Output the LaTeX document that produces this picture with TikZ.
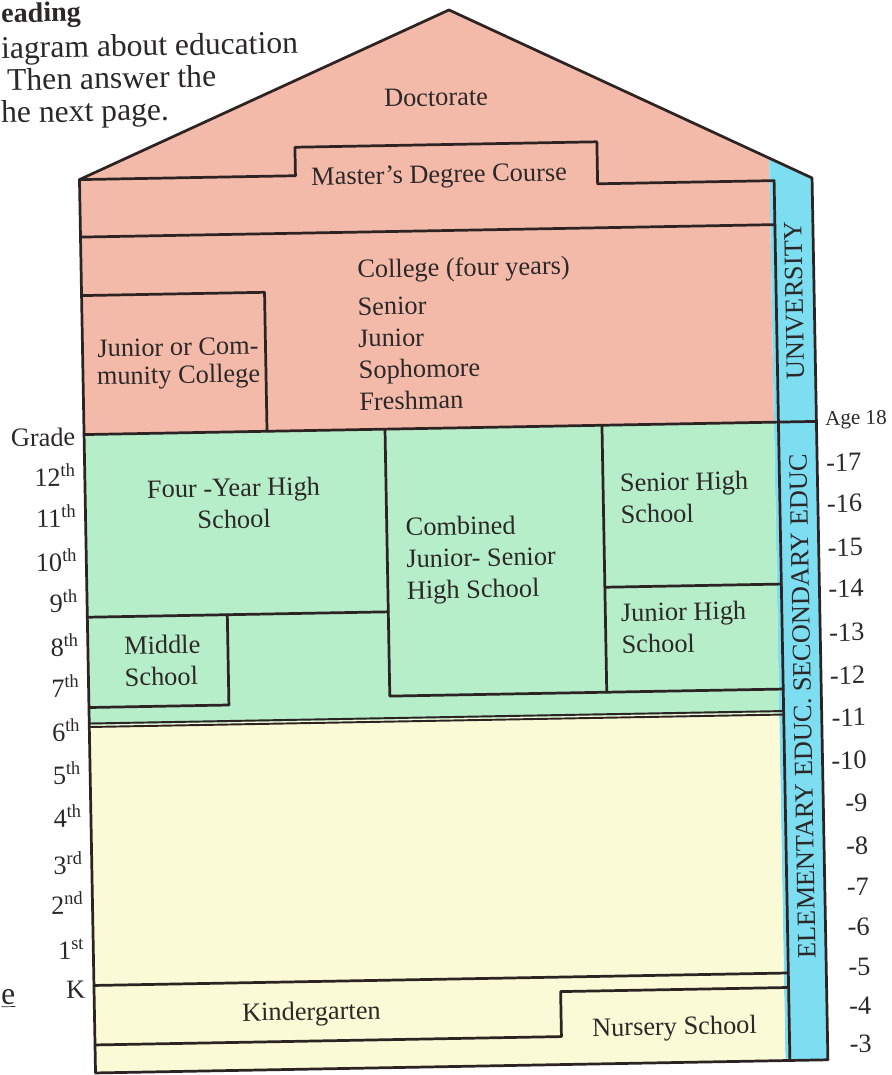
\documentclass[tikz,border=0pt]{standalone}
\usepackage{fontspec}
\setmainfont{Liberation Serif}
\definecolor{pinkfill}{RGB}{243,186,170}
\definecolor{greenfill}{RGB}{182,238,202}
\definecolor{yellowfill}{RGB}{250,250,214}
\definecolor{bluefill}{RGB}{125,222,242}
\definecolor{linec}{RGB}{45,35,35}
\definecolor{txtc}{RGB}{45,40,40}
\begin{document}
\begin{tikzpicture}[x=0.02cm,y=-0.02cm,
  wall/.style={draw=linec,line width=1.55pt,line cap=round,line join=round},
  lbl/.style={inner sep=0pt,text=txtc,font=\fontsize{15}{18}\selectfont},
  tight/.style={inner sep=0pt,text=txtc,font=\fontsize{15}{15.8}\selectfont},
  small/.style={inner sep=0pt,text=txtc,font=\fontsize{12}{14}\selectfont},
  frag/.style={inner sep=0pt,text=txtc,font=\fontsize{18}{21}\selectfont,rotate=1.03},
  agelbl/.style={lbl,anchor=base east},
  gradelbl/.style={lbl,anchor=base east}]
\useasboundingbox (0,0) rectangle (892,1075);
\fill[white] (0,0) rectangle (892,1075);

% fragments of the page text around the figure
\node[frag,anchor=base west,font=\fontsize{16}{19}\selectfont\bfseries] (fragA) at (1,22.5) {eading};
\node[frag,anchor=base west] (fragB) at (1,58.5) {iagram about education};
\node[frag,anchor=base west] (fragC) at (7,90.5) {Then answer the};
\node[frag,anchor=base west] (fragD) at (1,123) {he next page.};

\begin{scope}[rotate around={1.03:(450,540)},transform shape]
% fills
\fill[pinkfill] (86,173) -- (458.5,10) -- (776,163.9) -- (776,428) -- (86,428) -- cycle;
\fill[bluefill] (776,163.9) -- (818.5,184.5) -- (818.5,1066.5) -- (776,1066.5) -- cycle;
\fill[greenfill] (86,428) rectangle (776,718.7);
\fill[yellowfill] (86,718.7) rectangle (776,1066.5);

% outline
\draw[wall] (86,1066.5) -- (86,173) -- (458.5,10) -- (818.5,184.5) -- (818.5,1066.5) -- cycle;
\draw[wall] (780.5,186.5) -- (780.5,1066.5);
% master's step
\draw[wall] (86,173) -- (302,173) -- (302,144.5) -- (604,144.5) -- (604,186.5) -- (780.5,186.5);
\draw[wall] (86,230.5) -- (780.5,230.5);
% junior college box
\draw[wall] (86,289) -- (269,289) -- (269,428);
% university / secondary boundary
\draw[wall] (86,428) -- (818.5,428);
% secondary boxes
\draw[wall] (387,428) -- (387,695) -- (780.5,695);
\draw[wall] (604,428) -- (604,695);
\draw[wall] (604,590) -- (780.5,590);
\draw[wall] (86,610.7) -- (387,610.7);
\draw[wall] (226,610.7) -- (226,701) -- (86,701);
% double line
\draw[wall,line width=1.1pt] (86,717) -- (780.5,717);
\draw[wall,line width=1.1pt] (86,720.5) -- (780.5,720.5);
% kindergarten / nursery
\draw[wall] (86,979) -- (780.5,979);
\draw[wall] (86,1038.5) -- (552.5,1038.5) -- (552.5,993.5) -- (780.5,993.5);

% labels inside
\node[lbl,anchor=base] (doc) at (444,105.7) {Doctorate};
\node[lbl,anchor=base] (mas) at (445.6,182.8) {Master’s Degree Course};
\node[lbl,anchor=base west] (col) at (362,276.3) {College (four years)};
\node[lbl,anchor=north west,align=left] (years) at (361.5,296) {Senior\\Junior\\Sophomore\\Freshman};
\node[tight,anchor=north,align=center] (jc) at (181.5,333) {Junior or Com-\\munity College};
\node[lbl,anchor=north,align=center] (fyhs) at (234.5,474) {Four -Year High\\School};
\node[lbl,anchor=north west,align=left] (ms) at (122,630) {Middle\\School};
\node[lbl,anchor=north west,align=left] (comb) at (405.7,516.4) {Combined\\Junior- Senior\\High School};
\node[lbl,anchor=north west,align=left] (shs) at (620.7,476) {Senior High\\School};
\node[lbl,anchor=north west,align=left] (jhs) at (619.4,606) {Junior High\\School};
\node[lbl,anchor=base] (kg) at (303,1017.5) {Kindergarten};
\node[lbl,anchor=base] (ns) at (665.7,1039) {Nursery School};
\node[lbl,rotate=90] (univ) at (798.5,307.2) {UNIVERSITY};
\node[lbl,rotate=90] (elem) at (799.5,712.5) {ELEMENTARY EDUC. SECONDARY EDUC};

% grades
\node[gradelbl] (gGrade) at (77.5,439) {Grade};
\node[gradelbl] (g12) at (77.5,479) {12\textsuperscript{th}};
\node[gradelbl] (g11) at (77.5,520) {11\textsuperscript{th}};
\node[gradelbl] (g10) at (77.5,564) {10\textsuperscript{th}};
\node[gradelbl] (g9) at (77.5,605) {9\textsuperscript{th}};
\node[gradelbl] (g8) at (77.5,649) {8\textsuperscript{th}};
\node[gradelbl] (g7) at (77.5,690) {7\textsuperscript{th}};
\node[gradelbl] (g6) at (77.5,734) {6\textsuperscript{th}};
\node[gradelbl] (g5) at (77.5,777) {5\textsuperscript{th}};
\node[gradelbl] (g4) at (77.5,820) {4\textsuperscript{th}};
\node[gradelbl] (g3) at (77.5,867) {3\textsuperscript{rd}};
\node[gradelbl] (g2) at (77.5,907) {2\textsuperscript{nd}};
\node[gradelbl] (g1) at (77.5,952) {1\textsuperscript{st}};
\node[gradelbl] (gK) at (77.5,992) {K};

% ages
\node[small,anchor=base west] (a18) at (827,431.8) {Age 18};
\node[agelbl] (a17) at (863,478) {-17};
\node[agelbl] (a16) at (863,519) {-16};
\node[agelbl] (a15) at (863,563) {-15};
\node[agelbl] (a14) at (863,604) {-14};
\node[agelbl] (a13) at (863,648) {-13};
\node[agelbl] (a12) at (863,691) {-12};
\node[agelbl] (a11) at (863,733) {-11};
\node[agelbl] (a10) at (863,776) {-10};
\node[agelbl] (a9) at (863,819) {-9};
\node[agelbl] (a8) at (863,862) {-8};
\node[agelbl] (a7) at (863,903) {-7};
\node[agelbl] (a6) at (863,943) {-6};
\node[agelbl] (a5) at (863,983) {-5};
\node[agelbl] (a4) at (863,1022) {-4};
\node[agelbl] (a3) at (863,1060) {-3};
\end{scope}

\node[frag,anchor=base west] (fragE) at (1,1004) {\underline{e}};
\end{tikzpicture}
\end{document}
